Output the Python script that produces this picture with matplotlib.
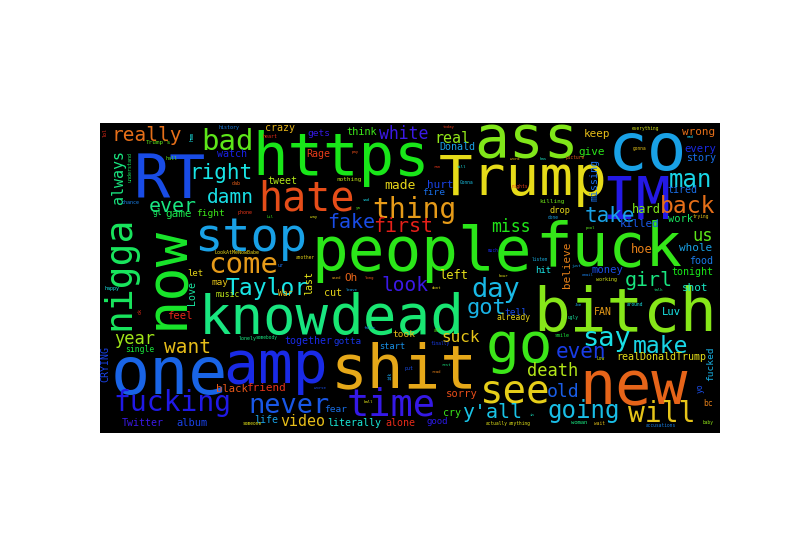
import colorsys
import matplotlib.pyplot as plt

# word cloud of tweet words: word, display size (px of the em box), hue
words = [
    "RT", "https", "ass", "co", "Trump", "IM", "people", "fuck", "bitch",
    "know", "dead", "one", "amp", "shit", "go", "new", "now", "nigga",
    "stop", "hate", "see", "time", "thing", "come", "will", "fucking", "never", "bad",
    "day", "say", "going", "make", "Taylor", "back", "man", "got", "right", "take",
    "even", "first", "fake", "girl", "ever", "y'all", "damn", "really", "look", "want",
    "old", "year", "death", "us", "white", "miss", "suck", "always", "real", "video",
    "made", "left", "hoe", "hard", "friend", "Oh", "killed", "hurt", "keep", "give",
    "wrong", "whole", "shot", "game",
    "sorry", "black", "money", "every", "feel", "Luv", "album", "work", "think", "Twitter",
    "life", "literally", "alone", "together", "cry", "realDonaldTrump", "tonight", "food", "FAN", "Donald",
    "tired", "story", "crazy", "Rage", "tweet", "watch", "cut", "Love", "last", "believe",
    "CRYING", "fucked", "missing", "gets", "fire", "fight", "fear", "took", "tell", "let",
    "may", "hit", "good", "gotta", "start", "drop", "music", "War", "already", "single",
    "gl", "bc", "yo",
    "Trump's", "hall", "phone", "dab", "history", "understand", "chance", "heart", "pay", "nothing",
    "sad", "ya", "way", "Lil", "today", "word", "has", "ran", "till", "Gonna",
    "nights", "killing", "done", "gonna", "everything", "mad", "picture", "trying", "another", "ur",
    "used", "long", "leave", "false", "much", "listen", "hour", "dont", "pool", "email",
    "working", "talk", "around", "Joe", "ugly", "just", "happy", "lonely", "someone", "all",
    "finally", "smile", "rest", "read", "actually", "anything", "in", "Low", "accusations", "wait",
    "woman", "baby", "put", "worse", "ball", "lol", "hmm", "ok", "idk", "somebody",
    "LookAtMeNowBabe",
]
weights = [
    60, 59, 58, 66, 56, 58, 61, 61, 61,
    54, 56, 65, 58, 61, 56, 60, 57, 38,
    47, 40, 39, 37, 28, 29, 28, 28, 27, 29,
    27, 27, 24, 23, 23, 23, 24, 22, 21, 21,
    21, 20, 20, 20, 20, 20, 19.5, 19.5, 19.5, 19.5,
    18, 17, 17, 17, 16.5, 16.5, 16, 15, 15, 15,
    13, 12, 12, 12, 11, 11, 11, 11, 11, 11,
    11, 11, 11, 11,
    10.5, 10.5, 10.5, 10.5, 10.5, 10.5, 10.4, 10.4, 10.3, 10,
    10, 10, 10, 10, 10, 10, 10, 10, 10, 10,
    10, 10, 10, 10, 10, 10, 10, 10, 10, 11,
    10, 9.5, 10, 9.5, 9.5, 9.5, 9.5, 9.5, 9.5, 9,
    9.4, 9, 9, 9.3, 8.6, 8.7, 8, 8, 8, 8,
    8, 8, 8,
    6, 5, 5, 5, 5, 5, 5, 5, 4, 6,
    4, 4, 4, 4, 4, 4, 4, 4, 4, 4.5,
    4.5, 6, 4.5, 4.5, 4.5, 4, 4.5, 4.5, 4.5, 5,
    4, 4, 4, 4, 4.5, 4.5, 4, 4, 4, 4,
    5, 4, 4.5, 4, 4.5, 4, 5, 5, 4.5, 4.5,
    4.5, 5, 4, 4, 4.5, 4.5, 4, 4.5, 4.5, 4.5,
    5.5, 4.5, 5, 4, 4, 5, 5, 5, 4.5, 4.5,
    5,
]
hues = [
    225, 120, 90, 200, 57, 243, 115, 112, 88,
    150, 146, 218, 235, 42, 110, 22, 125, 140,
    200, 15, 53, 248, 38, 38, 50, 242, 222, 100,
    193, 182, 192, 185, 180, 25, 185, 195, 180, 200,
    230, 2, 225, 150, 150, 190, 182, 25, 250, 48,
    220, 80, 75, 100, 250, 118, 50, 150, 85, 48,
    55, 58, 30, 90, 8, 22, 222, 228, 48, 115,
    25, 200, 170, 135,
    15, 18, 225, 235, 4, 180, 228, 140, 110, 250,
    200, 175, 5, 235, 110, 58, 120, 212, 38, 200,
    215, 215, 45, 10, 75, 238, 55, 160, 60, 30,
    228, 195, 215, 248, 215, 110, 215, 48, 225, 55,
    50, 180, 245, 232, 205, 55, 72, 45, 55, 130,
    140, 30, 225,
    100, 100, 8, 20, 210, 140, 210, 5, 15, 70,
    185, 100, 60, 110, 10, 45, 170, 8, 180, 190,
    12, 95, 200, 50, 65, 190, 20, 50, 55, 215,
    40, 20, 200, 210, 235, 195, 60, 55, 100, 210,
    65, 150, 180, 200, 160, 200, 180, 150, 60, 100,
    230, 130, 150, 30, 60, 60, 170, 70, 210, 50,
    150, 85, 225, 225, 60, 5, 180, 5, 200, 150,
    55,
]

# placement in the 620 x 310 cloud box: (x centre / baseline x, baseline y / centre y)
layout = [
    (70, 75), (241, 52), (427, 34), (548, 47), (423, 72), (536, 96), (322, 147), (509, 143), (525, 208),
    (164, 211), (297, 211), (69, 271), (176, 260), (304, 265), (419, 239), (533, 282), (82, 155), (29, 150),
    (151, 128), (206, 88), (415, 280), (291, 293), (314, 95), (143, 150), (562, 299), (72, 288), (189, 290), (128, 27),
    (396, 174), (507, 223), (484, 295), (561, 230), (167, 172), (588, 90), (590, 64), (387, 191), (121, 56), (510, 99),
    (481, 235), (303, 109), (251, 105), (549, 163), (73, 89), (392, 295), (130, 80), (47, 18), (305, 168), (87, 230),
    (463, 274), (35, 221), (453, 253), (603, 118), (304, 16), (411, 109), (361, 219), (23, 54), (352, 20), (203, 303),
    (300, 66), (354, 156), (542, 130), (546, 90), (167, 268), (251, 158), (540, 104), (340, 65), (497, 14), (492, 32),
    (599, 12), (596, 128), (595, 168), (79, 94),
    (362, 274), (132, 269), (507, 150), (600, 29), (80, 196), (571, 192), (92, 303), (580, 99), (262, 12), (43, 303),
    (166, 300), (254, 303), (300, 303), (208, 221), (352, 293), (561, 237), (592, 152), (601, 141), (503, 192), (357, 27),
    (582, 70), (601, 38), (180, 8), (218, 34), (182, 61), (132, 34), (233, 173), (95, 170), (212, 160), (470, 142),
    (8, 241), (613, 241), (497, 57), (219, 13), (334, 72), (111, 93), (236, 289), (304, 214), (416, 192), (95, 153),
    (120, 162), (443, 150), (337, 301), (248, 221), (292, 226), (460, 90), (128, 174), (185, 173), (414, 197), (40, 229),
    (57, 92), (608, 283), (603, 265),
    (59, 21), (71, 37), (145, 91), (136, 62), (129, 6), (31, 44), (31, 81), (170, 15), (255, 30), (249, 58),
    (266, 78), (258, 86), (214, 95), (170, 95), (349, 5), (415, 37), (443, 37), (337, 45), (361, 45), (367, 61),
    (420, 65), (452, 80), (453, 96), (540, 27), (545, 7), (590, 15), (475, 36), (601, 95), (205, 136), (181, 144),
    (236, 156), (269, 156), (252, 168), (270, 206), (393, 129), (440, 138), (403, 154), (337, 166), (490, 106), (488, 153),
    (507, 158), (558, 168), (535, 183), (478, 183), (473, 196), (476, 144), (12, 167), (148, 217), (152, 302), (338, 209),
    (340, 222), (462, 214), (346, 243), (336, 250), (397, 302), (420, 302), (432, 293), (501, 237), (561, 304), (499, 302),
    (479, 301), (608, 301), (309, 247), (220, 266), (268, 280), (7, 10), (93, 14), (42, 188), (292, 253), (166, 216),
    (137, 131),
]
vertical = {"now", "nigga", "always", "Love", "last", "believe", "CRYING", "fucked",
            "missing", "yo", "understand", "lol", "hmm", "ok", "idk"}

fig = plt.figure(figsize=(8, 5.5), dpi=100)
ax = fig.add_subplot(111)
ax.set_xlim(0, 620)
ax.set_ylim(310, 0)
ax.set_aspect("equal")
ax.set_facecolor("black")
ax.set_xticks([])
ax.set_yticks([])
for sp in ax.spines.values():
    sp.set_visible(False)

for w, size, h, (x, y) in zip(words, weights, hues, layout):
    col = colorsys.hls_to_rgb(h / 360, 0.5, 0.8)
    rot = 90 if w in vertical else 0
    ax.text(x, y, w, fontsize=size * 0.72, color=col, family="DejaVu Sans Mono",
            ha="center", va="baseline", rotation=rot, rotation_mode="anchor",
            clip_on=True)

fig.savefig("out.png", dpi=100)
